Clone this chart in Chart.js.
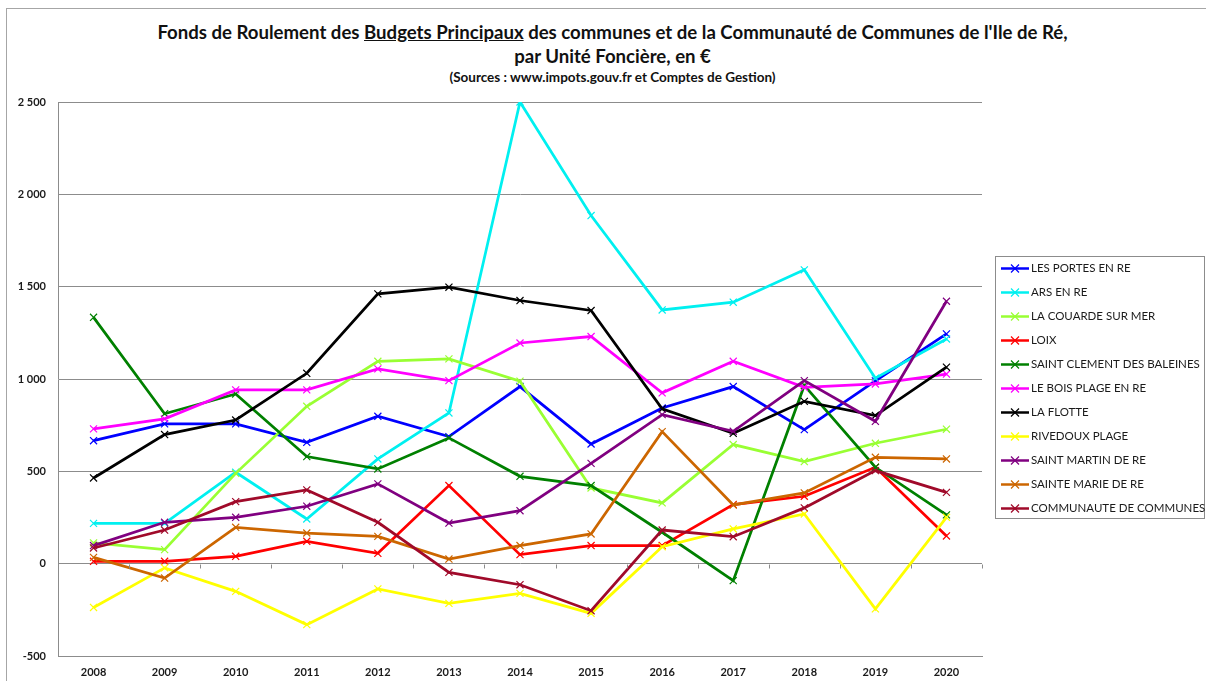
<!DOCTYPE html>
<html lang="fr">
<head>
<meta charset="utf-8">
<title>Fonds de Roulement - Ile de Ré</title>
<script src="https://cdn.jsdelivr.net/npm/chart.js@4.4.1/dist/chart.umd.min.js"></script>
<style>
  html, body { margin: 0; padding: 0; background: #fff; }
  #wrap { position: relative; width: 1206px; height: 681px; overflow: hidden; font-family: Lato, "Open Sans", sans-serif; }
  #frame { position: absolute; left: 6px; top: 8px; width: 1300px; height: 800px; border-top: 1px solid #a6a6a6; border-left: 1px solid #a6a6a6; }
  .t { position: absolute; left: 0; width: 1225px; text-align: center; font-weight: bold; color: #111; white-space: nowrap; }
  #t1 { top: 21px; font-size: 18.6px; }
  #t2 { top: 45px; font-size: 18.6px; }
  #t3 { top: 69px; font-size: 13.5px; }
  #box { position: absolute; left: 0; top: 0; width: 1206px; height: 681px; }
</style>
</head>
<body>
<div id="wrap">
  <div id="frame"></div>
  <div class="t" id="t1">Fonds de Roulement des <u>Budgets Principaux</u> des communes et de la Communauté de Communes de l'Ile de Ré,</div>
  <div class="t" id="t2">par Unité Foncière, en €</div>
  <div class="t" id="t3">(Sources : www.impots.gouv.fr et Comptes de Gestion)</div>
  <div id="box"><canvas id="myChart"></canvas></div>
</div>
<script>
const years = ['2008', '2009', '2010', '2011', '2012', '2013', '2014', '2015', '2016', '2017', '2018', '2019', '2020'];

const lesPortes     = [666, 757, 757, 657, 798, 688, 959, 648, 843, 959, 726, 990, 1244];
const arsEnRe       = [218, 218, 495, 242, 567, 816, 2500, 1885, 1374, 1416, 1591, 1004, 1217];
const laCouarde     = [112, 76, 489, 852, 1096, 1109, 988, 410, 329, 645, 553, 652, 728];
const loix          = [13, 13, 40, 121, 56, 423, 49, 98, 98, 320, 365, 522, 150];
const saintClement  = [1334, 812, 919, 580, 513, 681, 473, 423, 170, -92, 965, 522, 264];
const boisPlage     = [730, 784, 941, 941, 1055, 991, 1195, 1230, 925, 1096, 955, 973, 1027];
const laFlotte      = [464, 699, 778, 1031, 1461, 1497, 1425, 1371, 838, 706, 879, 802, 1064];
const rivedoux      = [-237, -23, -150, -330, -137, -215, -161, -269, 92, 188, 269, -245, 251];
const saintMartin   = [98, 224, 251, 311, 432, 220, 287, 543, 807, 717, 991, 771, 1421];
const sainteMarie   = [34, -78, 197, 166, 148, 25, 98, 161, 715, 318, 383, 576, 567];
const communaute    = [85, 182, 336, 399, 224, -47, -114, -255, 182, 146, 302, 504, 386];

const seriesNames = ['LES PORTES EN RE', 'ARS EN RE', 'LA COUARDE SUR MER', 'LOIX', 'SAINT CLEMENT DES BALEINES',
  'LE BOIS PLAGE EN RE', 'LA FLOTTE', 'RIVEDOUX PLAGE', 'SAINT MARTIN DE RE', 'SAINTE MARIE DE RE', 'COMMUNAUTE DE COMMUNES'];
const seriesValues = [lesPortes, arsEnRe, laCouarde, loix, saintClement, boisPlage, laFlotte, rivedoux, saintMartin, sainteMarie, communaute];
const seriesColors = ['#0000ff', '#00f0f0', '#99ff33', '#ff0000', '#008000', '#ff00ff', '#000000', '#ffff00', '#800080', '#cc6600', '#a00a2a'];

const yTicks = [-500, 0, 500, 1000, 1500, 2000, 2500];

function frNumber(v) {
  return String(v).replace(/\B(?=(\d{3})+(?!\d))/g, ' ');
}

// small tick marks on the zero line, between categories
const zeroTicks = {
  id: 'zeroTicks',
  afterDatasetsDraw(chart) {
    const ctx = chart.ctx, x = chart.scales.x, y = chart.scales.y;
    const y0 = Math.round(y.getPixelForValue(0)) + 0.5;
    const step = (x.right - x.left) / years.length;
    ctx.save();
    ctx.strokeStyle = '#8c8c8c';
    ctx.lineWidth = 1;
    ctx.beginPath();
    for (let i = 1; i <= years.length; i++) {
      const px = Math.round(x.left + i * step) + 0.5;
      ctx.moveTo(px, y0);
      ctx.lineTo(px, y0 + 4);
    }
    ctx.stroke();
    ctx.restore();
  }
};

// framed legend on the right, line sample with a cross marker
const boxLegend = {
  id: 'boxLegend',
  afterDraw(chart) {
    const ctx = chart.ctx;
    const left = 995, top = 256, width = 209, rowH = 24;
    const items = chart.data.datasets;
    ctx.save();
    ctx.strokeStyle = '#8c8c8c';
    ctx.lineWidth = 1;
    ctx.strokeRect(left + 0.5, top + 0.5, width, rowH * items.length - 2);
    ctx.font = '11.5px Lato, "Open Sans", sans-serif';
    ctx.textBaseline = 'middle';
    items.forEach((ds, i) => {
      const cy = top + 12.5 + i * rowH;
      ctx.strokeStyle = ds.borderColor;
      ctx.lineWidth = 2.5;
      ctx.beginPath();
      ctx.moveTo(left + 6, cy);
      ctx.lineTo(left + 34, cy);
      ctx.stroke();
      ctx.lineWidth = 1.2;
      ctx.beginPath();
      ctx.moveTo(left + 16, cy - 4); ctx.lineTo(left + 24, cy + 4);
      ctx.moveTo(left + 24, cy - 4); ctx.lineTo(left + 16, cy + 4);
      ctx.stroke();
      ctx.fillStyle = '#1a1a1a';
      ctx.fillText(ds.label, left + 36, cy);
    });
    ctx.restore();
  }
};

const ctx = document.getElementById('myChart').getContext('2d');
const myChart = new Chart(ctx, {
  type: 'line',
  data: {
    labels: years,
    datasets: seriesNames.map((name, i) => ({
      label: name,
      data: seriesValues[i],
      borderColor: seriesColors[i],
      backgroundColor: seriesColors[i],
      borderWidth: 2.75,
      tension: 0,
      pointStyle: 'crossRot',
      pointRadius: 5,
      pointBorderWidth: 1.2,
      pointBorderColor: seriesColors[i],
      order: seriesNames.length - i
    }))
  },
  options: {
    responsive: true,
    maintainAspectRatio: false,
    animation: false,
    layout: { padding: { left: 0, top: 102, right: 224, bottom: 0 } },
    plugins: {
      legend: { display: false },
      title: { display: false },
      tooltip: { enabled: false }
    },
    scales: {
      x: {
        offset: true,
        grid: { display: false, drawTicks: false },
        border: { display: true, color: '#8c8c8c' },
        ticks: {
          padding: 10,
          color: '#1a1a1a',
          font: { family: 'Lato, "Open Sans", sans-serif', size: 11, weight: 'bold' }
        },
        afterFit: (axis) => { axis.height = 25; }
      },
      y: {
        min: -500,
        max: 2500,
        afterBuildTicks: (axis) => { axis.ticks = yTicks.map(v => ({ value: v })); },
        grid: { color: '#8c8c8c', lineWidth: 1, drawTicks: false },
        border: { display: true, color: '#8c8c8c' },
        ticks: {
          padding: 12,
          color: '#1a1a1a',
          font: { family: 'Lato, "Open Sans", sans-serif', size: 11, weight: 'bold' },
          callback: (v) => frNumber(v)
        },
        afterFit: (axis) => { axis.width = 58; }
      }
    }
  },
  plugins: [zeroTicks, boxLegend]
});
</script>
</body>
</html>
